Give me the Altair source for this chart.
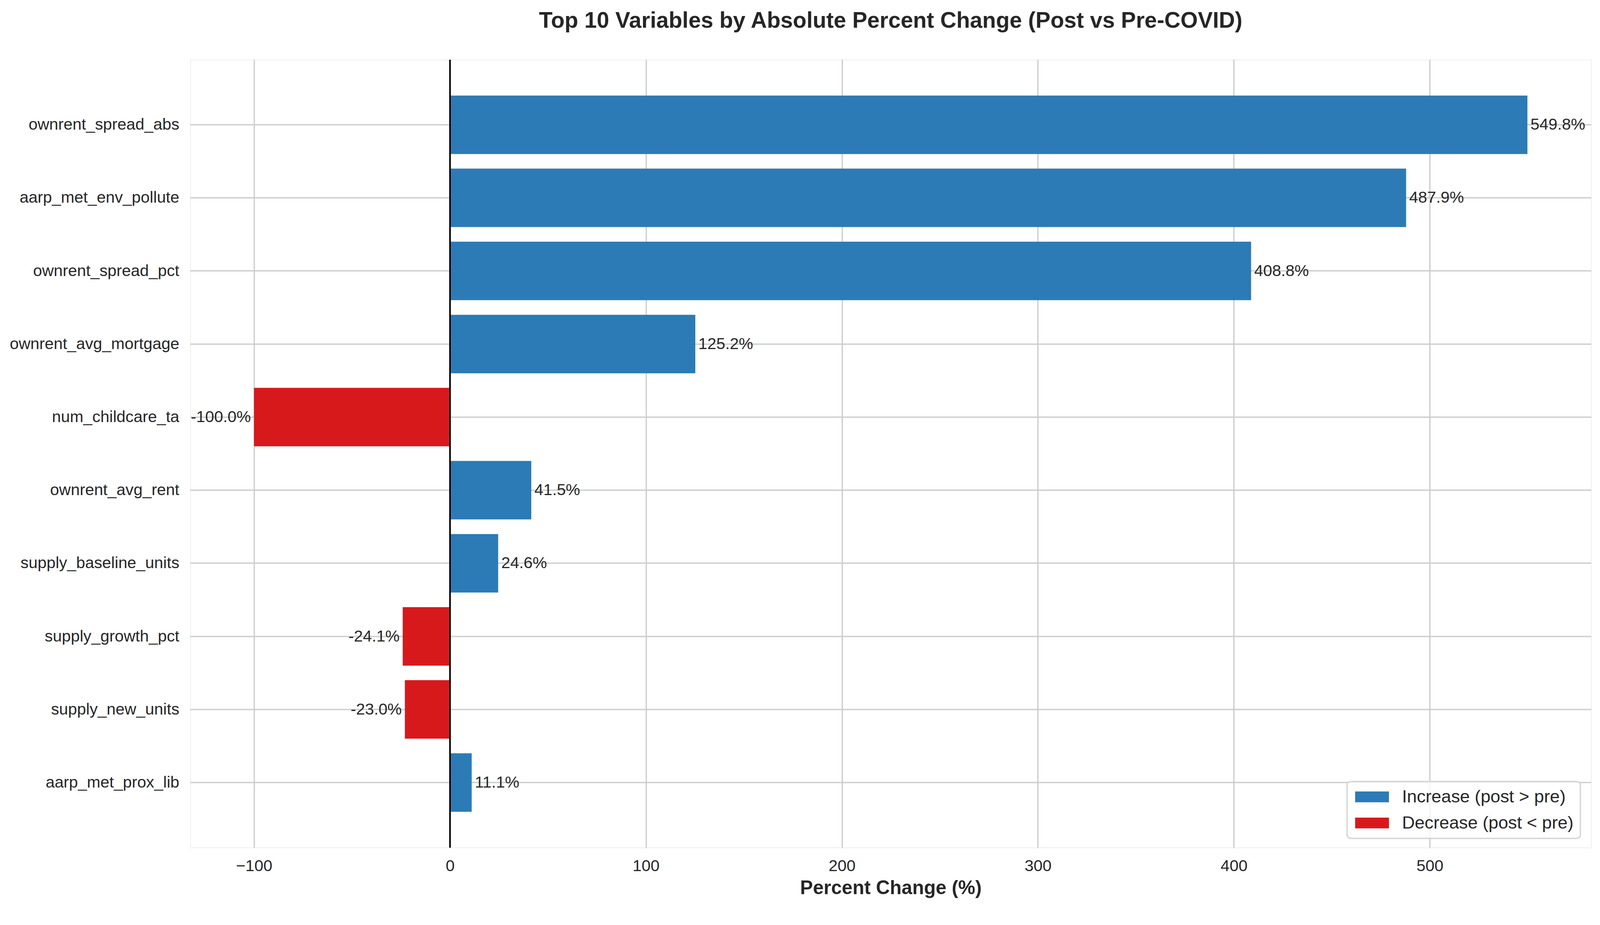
import altair as alt
import pandas as pd

variables = ["ownrent_spread_abs", "aarp_met_env_pollute", "ownrent_spread_pct",
             "ownrent_avg_mortgage", "num_childcare_ta", "ownrent_avg_rent",
             "supply_baseline_units", "supply_growth_pct", "supply_new_units",
             "aarp_met_prox_lib"]
pct_change = [549.8, 487.9, 408.8, 125.2, -100.0, 41.5, 24.6, -24.1, -23.0, 11.1]
legend_labels = ["Increase (post > pre)", "Decrease (post < pre)"]
colors = ["#2c7bb6", "#d7191c"]
x_ticks = [-100, 0, 100, 200, 300, 400, 500]

df = pd.DataFrame({
    "variable": variables,
    "pct": pct_change,
    "direction": [legend_labels[0] if v > 0 else legend_labels[1] for v in pct_change],
    "label": [f"{v:.1f}%" for v in pct_change],
})

FONT = "Liberation Sans"
TXT = "#262626"
GRID = "#cccccc"

x_scale = alt.Scale(domain=[-132.5, 582.3], nice=False, zero=False)
y_scale = alt.Scale(paddingInner=0.2, paddingOuter=0.49)

x_enc = alt.X("pct:Q", scale=x_scale,
              axis=alt.Axis(values=x_ticks, format="d", title="Percent Change (%)",
                            grid=True, gridColor=GRID, gridWidth=3.3,
                            domain=False, ticks=False, tickSize=0,
                            labelFont=FONT, labelFontSize=42, labelColor=TXT,
                            labelPadding=28, titleFont=FONT, titleFontSize=50,
                            titleFontWeight="bold", titleColor=TXT, titlePadding=12))
y_enc = alt.Y("variable:N", sort=variables, scale=y_scale,
              axis=alt.Axis(title=None, grid=True, gridColor=GRID, gridWidth=3.3,
                            bandPosition=0.5, domain=False, ticks=False, tickSize=0,
                            labelFont=FONT, labelFontSize=42, labelColor=TXT,
                            labelPadding=29, labelLimit=1000))

base = alt.Chart(df)

bars = base.mark_bar().encode(
    x=x_enc,
    y=y_enc,
    color=alt.Color("direction:N",
                    scale=alt.Scale(domain=legend_labels, range=colors),
                    legend=alt.Legend(title=None, orient="none", legendX=3010, legendY=1879,
                                      padding=17, fillColor="rgba(255,255,255,0.8)",
                                      strokeColor="#d6d6d6", cornerRadius=9,
                                      symbolType="M-1.913,-0.61L1.913,-0.61L1.913,0.61L-1.913,0.61Z",
                                      symbolSize=2116, symbolStrokeWidth=0, symbolOpacity=1,
                                      symbolOffset=25,
                                      labelFont=FONT, labelFontSize=46, labelColor=TXT,
                                      labelOffset=55, rowPadding=22, labelLimit=1000)),
)

zero = alt.Chart(df).mark_rule(color="black", strokeWidth=3.3).encode(x=alt.datum(0))

pos_text = base.transform_filter("datum.pct > 0").mark_text(
    align="left", baseline="middle", dx=8, font=FONT, fontSize=42, color=TXT
).encode(x="pct:Q", y=alt.Y("variable:N", sort=variables), text="label:N")

neg_text = base.transform_filter("datum.pct < 0").mark_text(
    align="right", baseline="middle", dx=-8, font=FONT, fontSize=42, color=TXT
).encode(x="pct:Q", y=alt.Y("variable:N", sort=variables), text="label:N")

chart = alt.layer(bars, zero, pos_text, neg_text).properties(
    width=3645, height=2051,
    title=alt.TitleParams("Top 10 Variables by Absolute Percent Change (Post vs Pre-COVID)",
                          font=FONT, fontSize=58, fontWeight="bold", color=TXT,
                          anchor="middle", offset=70),
    autosize=alt.AutoSizeParams(type="none"),
    padding={"left": 487, "top": 128, "right": 15, "bottom": 170},
).configure_view(stroke=GRID, strokeWidth=3.5).configure(background="white"
).configure_legend(strokeWidth=3.5)

chart.save("out.html", embed_options={"renderer": "svg", "actions": False})
